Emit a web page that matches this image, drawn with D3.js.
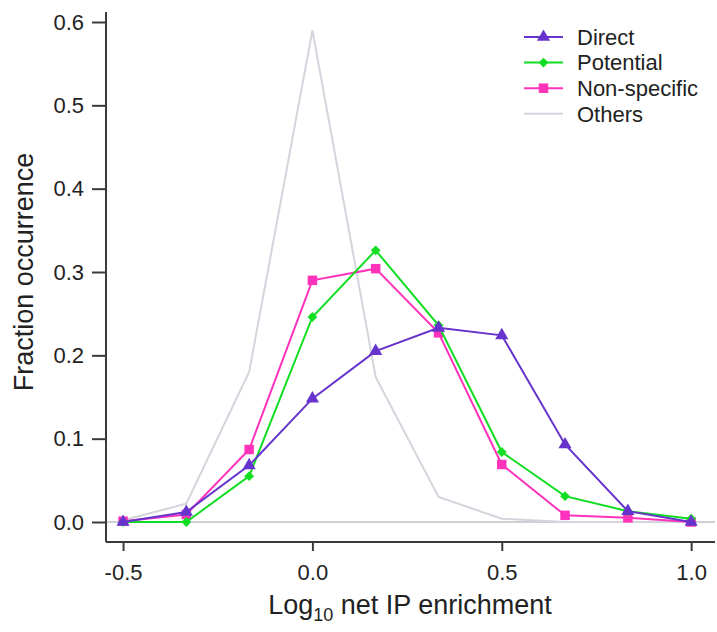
<!DOCTYPE html>
<html>
<head>
<meta charset="utf-8">
<script src="https://cdn.jsdelivr.net/npm/d3@7"></script>
<style>
  body { margin: 0; background: #fff; }
  text { font-family: "Liberation Sans", Arial, sans-serif; fill: #222; }
</style>
</head>
<body>
<svg id="chart" width="717" height="632"></svg>
<script>
// bin centres (log10 net IP enrichment)
const bins = [-0.5, -0.333, -0.167, 0, 0.167, 0.333, 0.5, 0.667, 0.833, 1.0];

const direct      = [0.000, 0.012, 0.068, 0.148, 0.205, 0.233, 0.224, 0.093, 0.013, 0.000];
const potential   = [0.000, 0.000, 0.055, 0.246, 0.326, 0.236, 0.084, 0.031, 0.013, 0.004];
const nonSpecific = [0.001, 0.009, 0.087, 0.290, 0.304, 0.227, 0.069, 0.008, 0.005, 0.000];
const others      = [0.002, 0.022, 0.180, 0.590, 0.174, 0.030, 0.004, 0.000, 0.000, 0.000];

const xTicks = [-0.5, 0, 0.5, 1.0];
const yTicks = [0, 0.1, 0.2, 0.3, 0.4, 0.5, 0.6];

const series = [
  {name: 'Direct', values: direct, color: '#6633cc', symbol: d3.symbolTriangle, size: 75, rot: 0},
  {name: 'Potential', values: potential, color: '#11dd22', symbol: d3.symbolSquare, size: 48, rot: 45},
  {name: 'Non-specific', values: nonSpecific, color: '#ff33bb', symbol: d3.symbolSquare, size: 90, rot: 0},
  {name: 'Others', values: others, color: '#d4d4dc', symbol: null}
];

const svg = d3.select('#chart');
const plotLeft = 106, plotRight = 715, plotTop = 12, plotBottom = 542;

const x = d3.scaleLinear().domain([-0.545, 1.063]).range([plotLeft, plotRight]);
const y = d3.scaleLinear().domain([-0.024, 0.612]).range([plotBottom, plotTop]);

// plain hyphen for negatives, like the original
const fmt = d3.formatLocale({decimal: '.', thousands: ',', grouping: [3], currency: ['', ''], minus: '-'}).format('.1f');

// zero reference line
svg.append('line')
  .attr('x1', plotLeft).attr('x2', plotRight)
  .attr('y1', y(0)).attr('y2', y(0))
  .style('stroke', '#cfcfd6').style('stroke-width', 2);

const xAxis = svg.append('g')
  .attr('transform', 'translate(0,' + plotBottom + ')')
  .call(d3.axisBottom(x).tickValues(xTicks).tickFormat(fmt).tickSize(9).tickPadding(13));

const yAxis = svg.append('g')
  .attr('transform', 'translate(' + plotLeft + ',0)')
  .call(d3.axisLeft(y).tickValues(yTicks).tickFormat(fmt).tickSize(14).tickPadding(8));

[xAxis, yAxis].forEach(function(g) {
  g.select('.domain').style('stroke', '#3a3a3a').style('stroke-width', 2);
  g.selectAll('.tick line').style('stroke', '#3a3a3a').style('stroke-width', 2);
  g.selectAll('.tick text').style('font-size', '22px').style('fill', '#222')
    .style('font-family', '"Liberation Sans", Arial, sans-serif');
});
yAxis.select('.domain').attr('d', 'M0,' + plotBottom + 'V' + plotTop);
xAxis.select('.domain').attr('d', 'M' + plotLeft + ',0H' + plotRight);

const line = d3.line()
  .x(function(d, i){return x(bins[i]);})
  .y(function(d){return y(d);});

// draw Others first so it sits underneath
series.slice().reverse().forEach(function(s) {
  svg.append('path')
    .datum(s.values)
    .attr('d', line)
    .style('fill', 'none')
    .style('stroke', s.color)
    .style('stroke-width', 2);

  if (s.symbol) {
    svg.selectAll(null)
      .data(s.values)
      .enter()
      .append('path')
      .attr('d', d3.symbol().type(s.symbol).size(s.size))
      .attr('transform', function(d, i){return 'translate(' + x(bins[i]) + ',' + y(d) + ') rotate(' + s.rot + ')';})
      .style('fill', s.color);
  }
});

// axis titles
svg.append('text')
  .attr('transform', 'translate(33,272) rotate(-90)')
  .attr('text-anchor', 'middle')
  .style('font-size', '27px')
  .text('Fraction occurrence');

const xt = svg.append('text')
  .attr('x', 410).attr('y', 614)
  .attr('text-anchor', 'middle')
  .style('font-size', '27px');
xt.append('tspan').text('Log');
xt.append('tspan').attr('dy', 7).style('font-size', '18px').text('10');
xt.append('tspan').attr('dy', -7).text(' net IP enrichment');

// legend
const legend = svg.append('g').attr('transform', 'translate(524,37)');
const rows = legend.selectAll('g')
  .data(series)
  .enter()
  .append('g')
  .attr('transform', function(d, i){return 'translate(0,' + i * 25.6 + ')';});

rows.append('line')
  .attr('x1', 0).attr('x2', 39)
  .style('stroke', function(d){return d.color;})
  .style('stroke-width', 2);

rows.filter(function(d){return d.symbol;})
  .append('path')
  .attr('transform', function(d){return 'translate(19.5,0) rotate(' + d.rot + ')';})
  .attr('d', function(d){return d3.symbol().type(d.symbol).size(d.size)();})
  .style('fill', function(d){return d.color;});

rows.append('text')
  .attr('x', 53).attr('dy', '0.35em')
  .style('font-size', '22px')
  .text(function(d){return d.name;});
</script>
</body>
</html>
